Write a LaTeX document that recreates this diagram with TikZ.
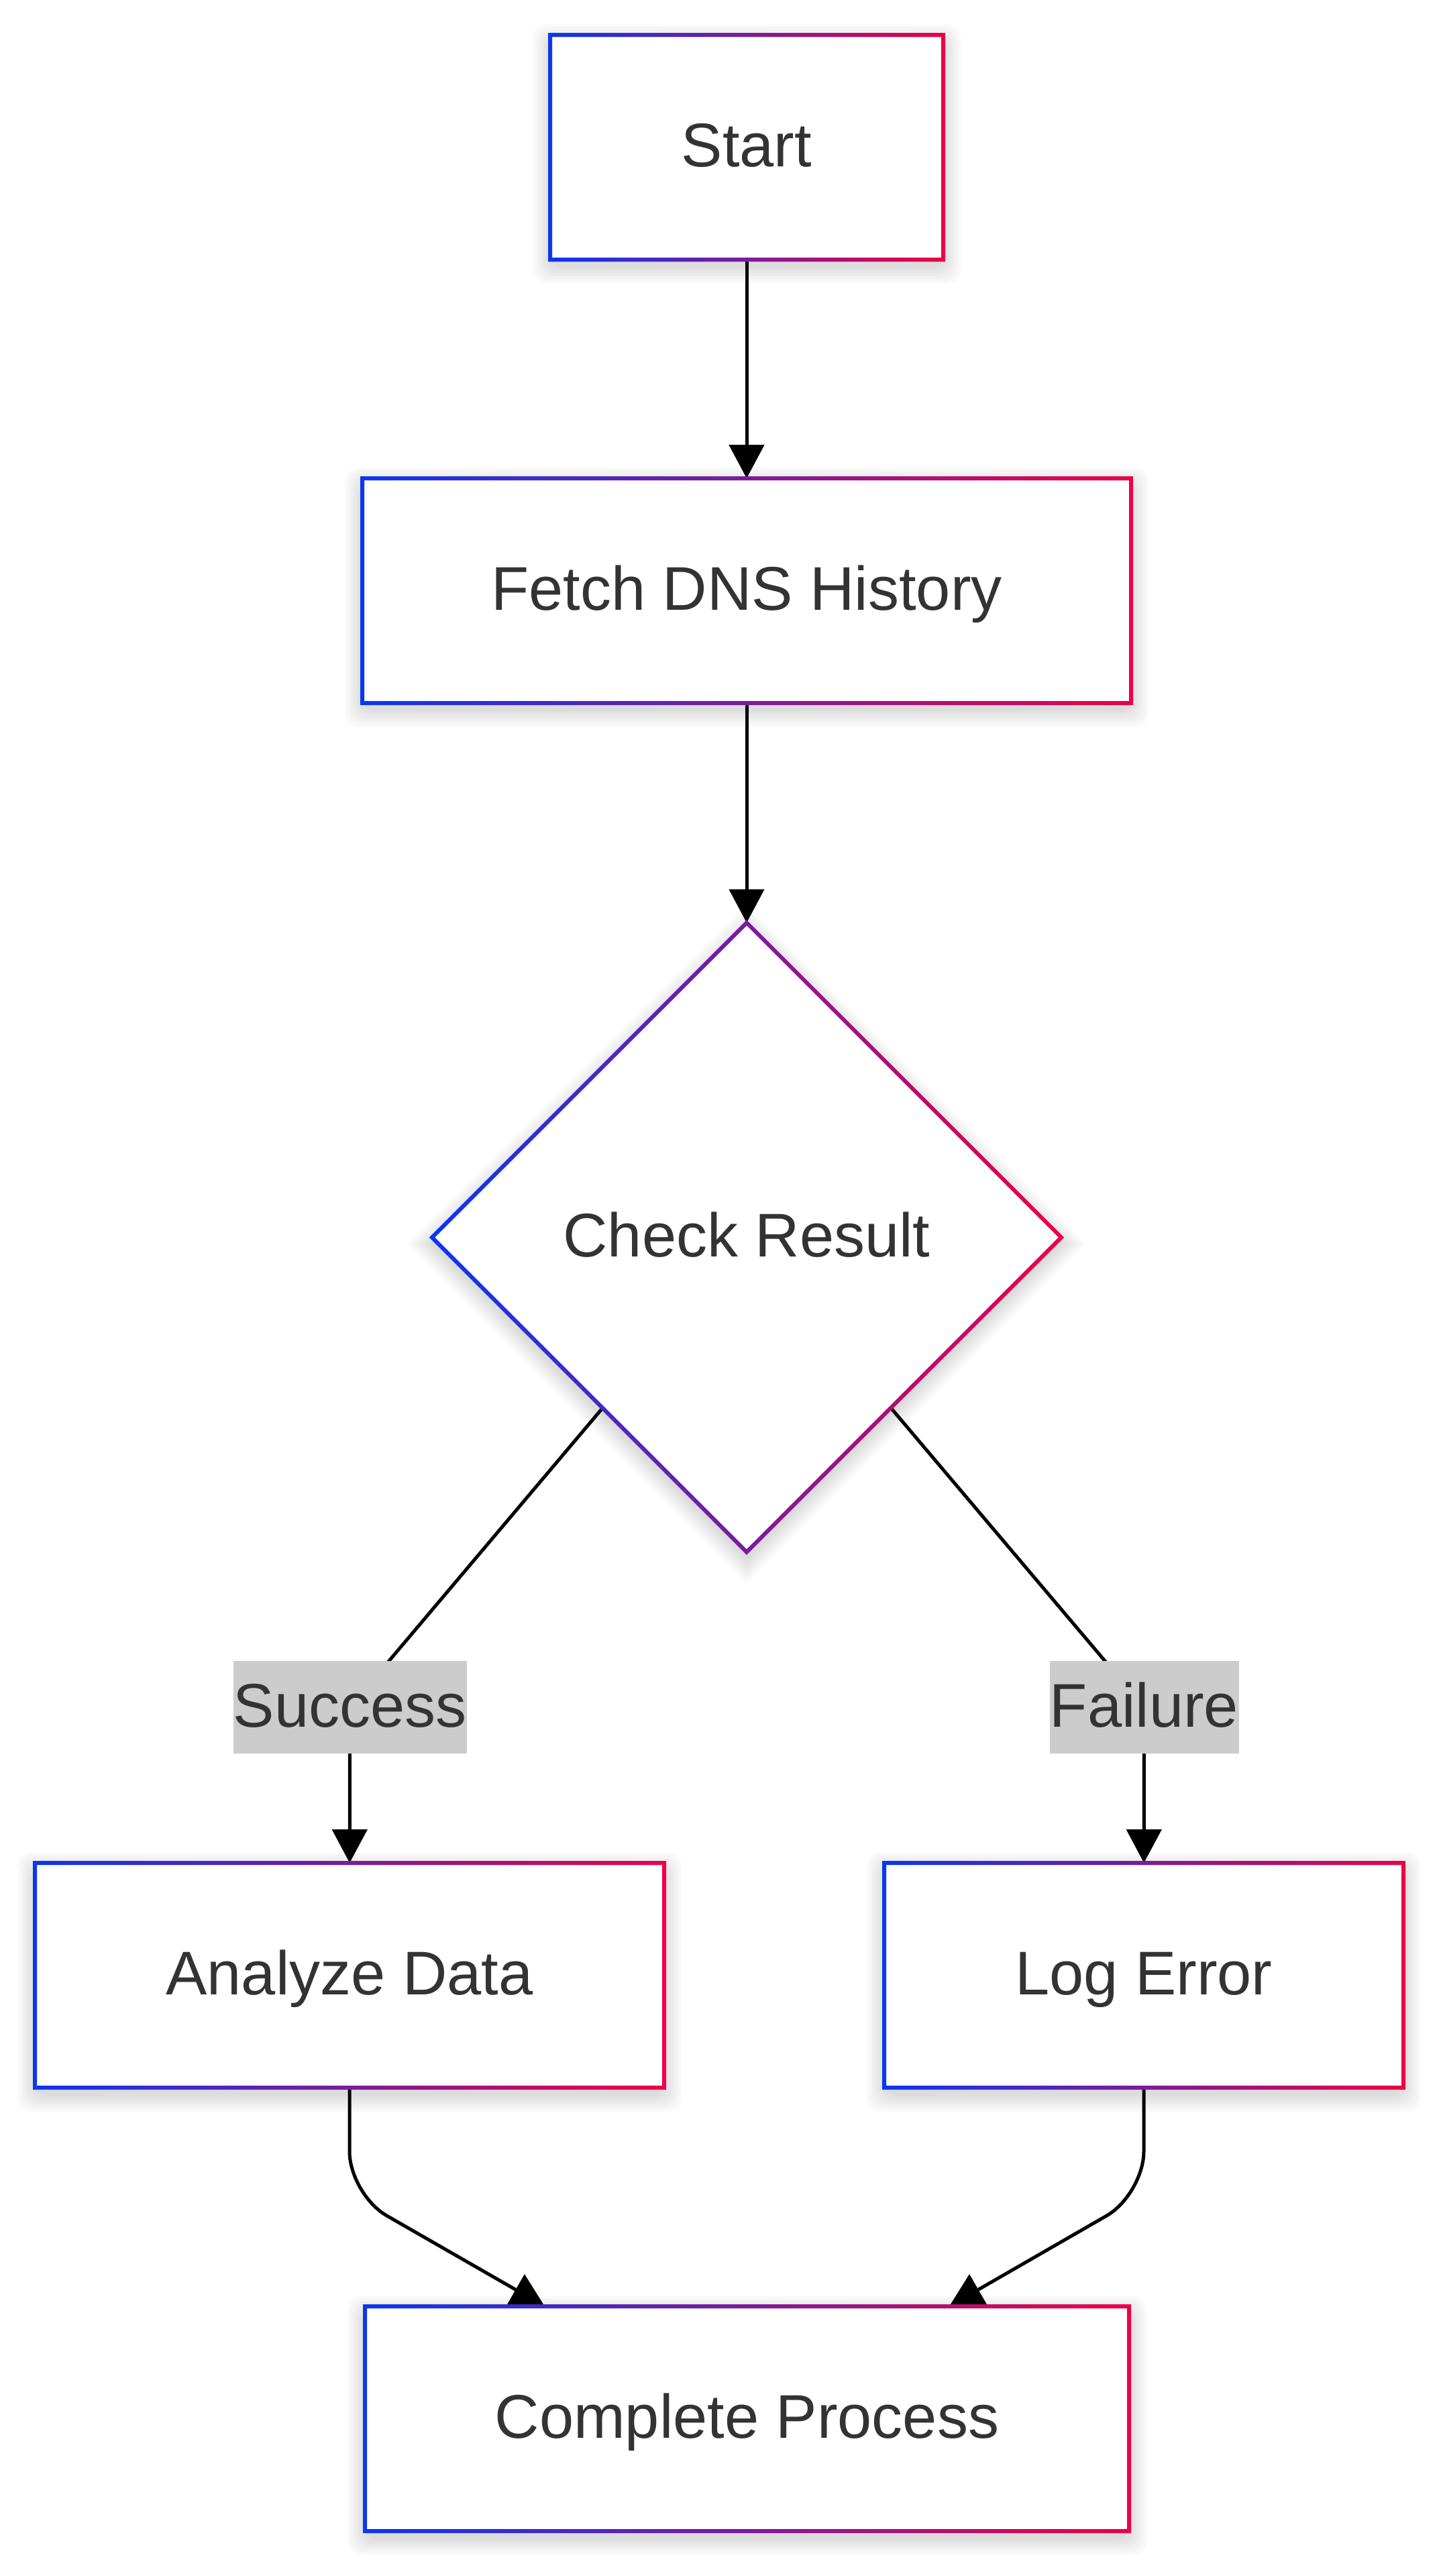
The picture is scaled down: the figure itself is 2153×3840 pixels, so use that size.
\documentclass[tikz,border=0pt]{standalone}
\usepackage{fontspec}
\setmainfont{Liberation Sans}
\usetikzlibrary{arrows.meta,shapes.geometric}
\definecolor{gblue}{RGB}{10,55,240}
\definecolor{gred}{RGB}{238,0,70}
\definecolor{txtc}{RGB}{51,51,51}
\definecolor{lblc}{RGB}{204,204,204}
\pgfdeclarelayer{shadowlayer}
\pgfdeclarelayer{edgelayer}
\pgfsetlayers{shadowlayer,edgelayer,main}
\newcommand{\nodefont}{\fontsize{46pt}{55pt}\selectfont}
\newcommand{\gframe}[1]{%
  \shade[left color=gblue,right color=gred,even odd rule]
    ([shift={(-3,-3)}]#1.north west) rectangle ([shift={(3,3)}]#1.south east)
    ([shift={(3,3)}]#1.north west) rectangle ([shift={(-3,-3)}]#1.south east);}
\newcommand{\bshadow}[1]{%
  \begin{pgfonlayer}{shadowlayer}
  \foreach \e in {2,6,...,26}{%
    \fill[black,opacity=0.02,rounded corners=10pt]
      ([shift={(-\e,10-\e)}]#1.north west) rectangle ([shift={(\e,10+\e)}]#1.south east);}
  \end{pgfonlayer}}
\newcommand{\dframe}[1]{%
  \shade[left color=gblue,right color=gred,even odd rule]
    ([shift={(0,-4.24)}]#1.north) -- ([shift={(4.24,0)}]#1.east) -- ([shift={(0,4.24)}]#1.south) -- ([shift={(-4.24,0)}]#1.west) -- cycle
    ([shift={(0,4.24)}]#1.north) -- ([shift={(-4.24,0)}]#1.east) -- ([shift={(0,-4.24)}]#1.south) -- ([shift={(4.24,0)}]#1.west) -- cycle;}
\newcommand{\dshadow}[1]{%
  \begin{pgfonlayer}{shadowlayer}
  \foreach \e in {2,6,...,26}{%
    \fill[black,opacity=0.02]
      ([shift={(0,10-1.414*\e)}]#1.north) -- ([shift={(1.414*\e,10)}]#1.east) -- ([shift={(0,10+1.414*\e)}]#1.south) -- ([shift={(-1.414*\e,10)}]#1.west) -- cycle;}
  \end{pgfonlayer}}
\begin{document}
\begin{tikzpicture}[x=0.5pt,y=-0.5pt,
  box/.style={rectangle,fill=white,inner sep=0pt,outer sep=0pt,minimum height=167.5pt,font=\nodefont,text=txtc,text height=32.9pt,text depth=4pt},
  dec/.style={diamond,aspect=1,fill=white,inner sep=0pt,outer sep=0pt,minimum width=469pt,minimum height=469pt,font=\nodefont,text=txtc,text height=32.9pt,text depth=4pt},
  lbl/.style={rectangle,fill=lblc,inner sep=0pt,outer sep=0pt,minimum height=69pt,font=\nodefont,text=txtc,text height=32.9pt,text depth=3pt},
  conn/.style={draw=black,line width=2.5pt,-{Triangle[length=25pt,width=26pt]}}]
\useasboundingbox (0,0) rectangle (2153,3840);
\begin{pgfonlayer}{shadowlayer}
\fill[white] (0,0) rectangle (2153,3840);
\end{pgfonlayer}

\node[box,minimum width=293pt] (start) at (1113,219.5) {Start};
\node[box,minimum width=573pt] (fetch) at (1113,880.5) {Fetch DNS History};
\node[dec] (check) at (1113,1844.5) {Check Result};
\node[lbl,minimum width=174pt] (slabel) at (521.5,2545) {Success};
\node[lbl,minimum width=141pt] (flabel) at (1705.5,2545) {Failure};
\node[box,minimum width=469pt] (analyze) at (521,2944.5) {Analyze Data};
\node[box,minimum width=387pt] (logerr) at (1705,2944.5) {Log Error};
\node[box,minimum width=569.5pt] (complete) at (1113.5,3605.5) {Complete Process};

\coordinate (c1) at (521,3271);
\coordinate (c2) at (1705,3271);
\coordinate (t1) at ([xshift=134pt]complete.north west);
\coordinate (t2) at ([xshift=-134pt]complete.north east);

\bshadow{start}
\bshadow{fetch}
\dshadow{check}
\bshadow{analyze}
\bshadow{logerr}
\bshadow{complete}

\begin{pgfonlayer}{edgelayer}
\draw[conn] (start) -- (fetch);
\draw[conn] (fetch) -- (check);
\draw[conn] (check) -- (slabel.center) -- (analyze);
\draw[conn] (check) -- (flabel.center) -- (logerr);
\draw[conn,rounded corners=32pt] (analyze) -- (c1) -- (t1);
\draw[conn,rounded corners=32pt] (logerr) -- (c2) -- (t2);
\end{pgfonlayer}

\gframe{start}
\gframe{fetch}
\dframe{check}
\gframe{analyze}
\gframe{logerr}
\gframe{complete}
\end{tikzpicture}
\end{document}
